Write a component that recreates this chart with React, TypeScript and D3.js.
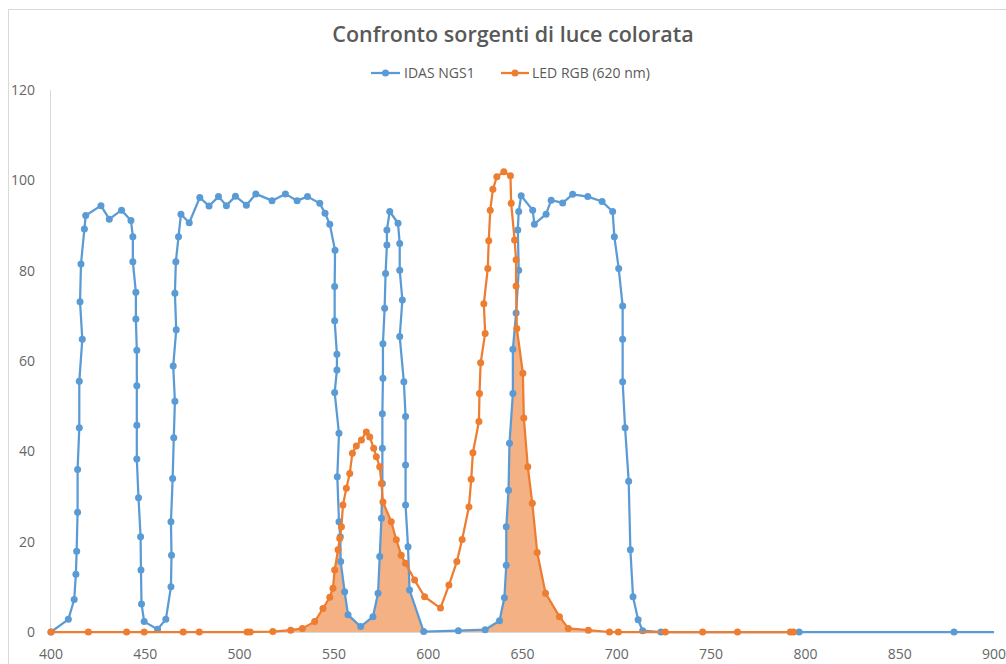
import React from "react";
import * as d3 from "d3";

const TITLE = "Confronto sorgenti di luce colorata";
const SERIES_NAMES = ["IDAS NGS1", "LED RGB (620 nm)"];
const X_TICKS = [400, 450, 500, 550, 600, 650, 700, 750, 800, 850, 900];
const Y_TICKS = [0, 20, 40, 60, 80, 100, 120];

const idasNm = [
  400, 409.2, 412.3, 413.2, 413.6, 414.1, 414.1, 415, 415, 416.6, 415.4, 415.9, 417.7, 418.4,
  426.5, 430.9, 437.4, 442.4, 443.4, 443.4, 445, 445, 445.5, 445.5, 445.5, 445.5, 446.4, 447.5,
  447.7, 448, 449.4, 456.5, 460.9, 463.6, 463.9, 463.6, 464.5, 465.1, 465.7, 464.8, 466.4, 465.7,
  466.2, 467.6, 468.9, 473.3, 478.9, 483.8, 488.8, 493, 497.8, 503.6, 508.6, 517.2, 524.3, 530.5,
  536, 542.5, 545.3, 547.8, 550.6, 550.4, 550.4, 551.6, 551.6, 550.4, 552.7, 551.8, 552.7, 553.4,
  553.6, 555.7, 557.5, 564.2, 570.7, 573.4, 574.3, 575.2, 575.7, 575.7, 575.7, 576, 576, 576.9,
  577.4, 578.1, 578.1, 579.6, 584, 584.9, 584.9, 586.3, 584.9, 587.1, 588, 588, 588, 589.3, 590.1,
  597.6, 616, 630.2, 637.8, 640.4, 641.4, 641.4, 642.6, 643.1, 644.9, 644.9, 646.6, 648, 647.5,
  648, 649.3, 655.4, 656.3, 662.5, 665.2, 671.3, 676.6, 684.6, 692.2, 697.8, 698.7, 701, 703.1,
  703.1, 703.1, 704.4, 706.3, 707.2, 708.6, 711.3, 713.7, 723.4, 796.7, 878.8, 910,
];
const idasT = [
  0, 2.8, 7.2, 12.8, 17.9, 26.5, 36.0, 45.2, 55.5, 64.8, 73.1, 81.5, 89.2, 92.2,
  94.4, 91.4, 93.4, 91.1, 87.5, 82.0, 75.2, 69.3, 62.4, 54.5, 45.8, 38.3, 29.7, 21.1,
  13.7, 6.2, 2.3, 0.6, 2.8, 10.0, 17.0, 24.4, 34.0, 43.0, 51.1, 58.9, 66.9, 75.0,
  82.0, 87.5, 92.5, 90.6, 96.2, 94.3, 96.4, 94.4, 96.5, 94.5, 97.0, 95.5, 97.0, 95.5,
  96.4, 94.9, 92.7, 90.3, 84.5, 76.5, 68.9, 61.5, 58.0, 53.0, 44.0, 34.4, 24.4, 21.1,
  15.6, 8.9, 3.8, 1.2, 3.4, 8.6, 16.7, 25.2, 32.9, 40.7, 48.3, 56.2, 63.8, 71.7,
  79.4, 85.7, 89.0, 93.1, 90.5, 86.0, 80.1, 73.5, 65.4, 55.4, 47.7, 37.0, 28.1, 18.9, 9.3,
  0.1, 0.3, 0.5, 2.5, 7.6, 14.8, 23.3, 31.4, 41.8, 52.8, 62.6, 70.6, 80.1, 89.0,
  93.1, 96.6, 93.4, 90.3, 92.5, 95.6, 95.0, 96.9, 96.4, 95.3, 93.1, 87.5, 80.5, 72.2,
  64.8, 55.4, 45.2, 33.4, 18.2, 7.8, 2.7, 0.3, 0, 0, 0, 0,
];

const ledNm = [
  400, 419.8, 440.1, 449.4, 470.1, 478.6, 504, 505.6, 517.6, 527.1, 533.3, 539.8, 544.2, 547.8,
  549.5, 550.4, 552.2, 553.1, 554, 554.8, 556.6, 558.4, 559.8, 561.9, 564.6, 567.2, 569, 571.1,
  572.5, 574.3, 575.2, 576, 580.4, 583.1, 585.7, 588, 592.8, 598.1, 606.5, 611, 615.2, 618,
  621.6, 622.8, 623.7, 626.9, 627.2, 627.8, 630.2, 629.5, 631.6, 632.1, 632.9, 634.3, 636.4,
  640.1, 643.6, 644, 645.8, 646.6, 646.6, 647, 650.2, 650.7, 652.8, 655.2, 657.8, 662.2, 669.6,
  674.3, 684.9, 696.1, 700.8, 725.7, 745.5, 764, 792, 793.7,
];
const ledT = [
  0, 0, 0, 0, 0, 0, 0, 0, 0.1, 0.4, 0.8, 2.3, 5.2, 7.7,
  9.7, 13.7, 18.2, 20.7, 23.3, 28.1, 31.8, 35.1, 39.6, 41.2, 42.5, 44.3, 43.2, 40.7,
  38.8, 36.6, 32.9, 28.8, 24.4, 20.4, 17.0, 15.2, 11.5, 7.8, 5.3, 10.4, 15.6, 20.5,
  27.7, 33.8, 39.7, 46.6, 52.8, 59.6, 66.1, 72.7, 80.5, 86.6, 93.4, 98.0, 100.8,
  101.9, 101.0, 94.9, 86.8, 82.4, 76.6, 67.2, 57.3, 47.4, 36.6, 28.5, 17.6, 8.6, 3.4,
  0.8, 0.4, 0, 0, 0, 0, 0, 0, 0,
];

const BLUE = "#5b9bd5";
const ORANGE = "#ed7d31";
const FILL = "#f4b183";
const FONT = "'Open Sans', 'Noto Sans', sans-serif";

export default function App() {
  const x = d3.scaleLinear().domain([400, 900]).range([51, 994]);
  const y = d3.scaleLinear().domain([0, 120]).range([632, 90]);

  const blue: [number, number][] = idasNm.map((n, i) => [n, idasT[i]]);
  const orange: [number, number][] = ledNm.map((n, i) => [n, ledT[i]]);

  const line = d3
    .line<[number, number]>()
    .x((d) => x(d[0]))
    .y((d) => y(d[1]));
  const area = d3
    .area<[number, number]>()
    .x((d) => x(d[0]))
    .y0(y(0))
    .y1((d) => y(d[1]));

  const blueVisible = blue.filter((d) => d[0] <= 900);

  return (
    <svg
      width={1006}
      height={664}
      style={{ position: "absolute", left: 0, top: 0, background: "#fff" }}
    >
      <defs>
        <clipPath id="plotClip">
          <rect x={x(400) - 6} y={80} width={x(900) - x(400) + 6} height={560} />
        </clipPath>
        <clipPath id="blueArea">
          <path d={area(blue) || ""} />
        </clipPath>
      </defs>
      <rect x={8.5} y={9.5} width={1010} height={670} fill="#fff" stroke="#d9d9d9" />

      <text
        x={513}
        y={42}
        textAnchor="middle"
        fontFamily={FONT}
        fontSize={21.5}
        fontWeight={600}
        fill="#595959"
      >
        {TITLE}
      </text>

      {/* legend */}
      <g fontFamily={FONT} fontSize={14} fill="#595959">
        <line x1={371} x2={400} y1={73} y2={73} stroke={BLUE} strokeWidth={2.25} />
        <circle cx={385.5} cy={73} r={3.5} fill={BLUE} />
        <text x={404} y={78}>{SERIES_NAMES[0]}</text>
        <line x1={501} x2={529} y1={73} y2={73} stroke={ORANGE} strokeWidth={2.25} />
        <circle cx={515} cy={73} r={3.5} fill={ORANGE} />
        <text x={532} y={78}>{SERIES_NAMES[1]}</text>
      </g>

      {/* axes */}
      <line x1={50.5} x2={50.5} y1={y(120)} y2={y(0)} stroke="#d9d9d9" strokeWidth={1} />
      <line x1={50} x2={x(900)} y1={y(0) + 0.5} y2={y(0) + 0.5} stroke="#d9d9d9" strokeWidth={1} />
      <g fontFamily={FONT} fontSize={14} fill="#666">
        {Y_TICKS.map((t) => (
          <text key={t} x={35} y={y(t) + 5} textAnchor="end">
            {t}
          </text>
        ))}
        {X_TICKS.map((t) => (
          <text key={t} x={x(t)} y={659} textAnchor="middle">
            {t}
          </text>
        ))}
      </g>

      <g clipPath="url(#plotClip)">
        <path d={area(orange) || ""} fill={FILL} clipPath="url(#blueArea)" />
        <path d={line(blue) || ""} fill="none" stroke={BLUE} strokeWidth={2.25} strokeLinejoin="round" />
        {blueVisible.map((d, i) => (
          <circle key={"b" + i} cx={x(d[0])} cy={y(d[1])} r={3.5} fill={BLUE} />
        ))}
        <path d={line(orange) || ""} fill="none" stroke={ORANGE} strokeWidth={2.25} strokeLinejoin="round" />
        {orange.map((d, i) => (
          <circle key={"o" + i} cx={x(d[0])} cy={y(d[1])} r={3.5} fill={ORANGE} />
        ))}
      </g>
    </svg>
  );
}
